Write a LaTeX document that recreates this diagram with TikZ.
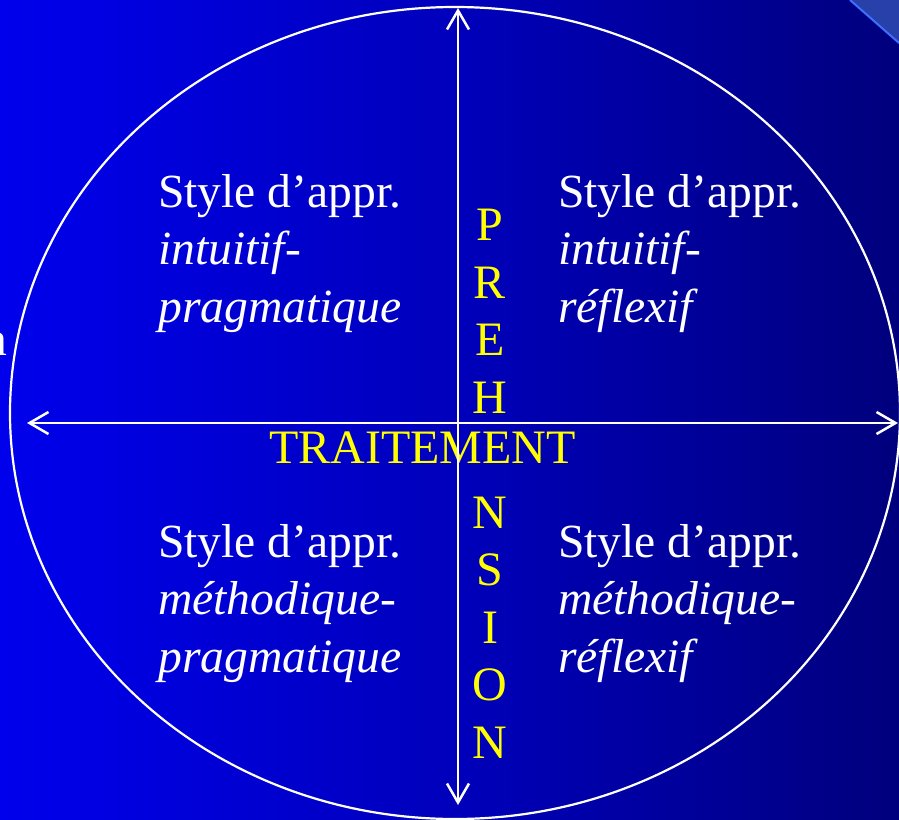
\documentclass[tikz,border=0pt]{standalone}
\usepackage{fontspec}
\setmainfont{Liberation Serif}
\usetikzlibrary{arrows.meta}
\definecolor{bgleft}{RGB}{0,0,236}
\definecolor{bgmid}{RGB}{0,0,188}
\definecolor{bgright}{RGB}{0,0,125}
\definecolor{ylw}{RGB}{255,255,0}
\definecolor{cornerfill}{RGB}{40,64,170}
\definecolor{corneredge}{RGB}{64,110,255}
\tikzset{
  quad/.style={text=white, font=\fontsize{47.6}{57.5}\selectfont, align=left, inner sep=0pt, anchor=base west},
  yel/.style={text=ylw, font=\fontsize{48}{57.5}\selectfont, inner sep=0pt},
  axis/.style={white, line width=2.5pt, {Straight Barb[length=19pt,width=22pt]}-{Straight Barb[length=19pt,width=22pt]}},
  rim/.style={white, line width=2.2pt}
}
\begin{document}
\begin{tikzpicture}[x=1pt,y=-1pt]
\useasboundingbox (0,0) rectangle (899,819);
\shade[left color=bgleft, right color=bgmid] (0,0) rectangle (450,819);
\shade[left color=bgmid, right color=bgright] (449.5,0) rectangle (899,819);
\fill[cornerfill] (851,0) -- (899,0) -- (899,43) -- cycle;
\draw[corneredge, line width=2pt] (850,0) -- (899,43);
\draw[rim] (455,413) ellipse [x radius=445, y radius=406];
\node[anchor=base east, text=white, font=\fontsize{47.6}{57.5}\selectfont, inner sep=0pt] (cutn) at (7.5,355) {n};
\node[quad] (tl) at (158,322) {Style d’appr.\\\textit{intuitif-}\\\textit{pragmatique}};
\node[quad] (tr) at (558,322) {Style d’appr.\\\textit{intuitif-}\\\textit{réflexif}};
\node[quad] (bl) at (158,672) {Style d’appr.\\\textit{méthodique-}\\\textit{pragmatique}};
\node[quad] (br) at (558,672) {Style d’appr.\\\textit{méthodique-}\\\textit{réflexif}};
\node[yel, align=center, anchor=base] (preh) at (490,758) {P\\R\\E\\H\\[57.5pt]N\\S\\I\\O\\N};
\node[yel, anchor=base] (trait) at (422.5,463) {TRAITEMENT};
\coordinate (vtop) at (458,8);
\coordinate (vbot) at (458,805);
\coordinate (hlft) at (27,423);
\coordinate (hrgt) at (898,423);
\draw[axis] (vbot) -- (vtop);
\draw[axis] (hlft) -- (hrgt);
\end{tikzpicture}
\end{document}
